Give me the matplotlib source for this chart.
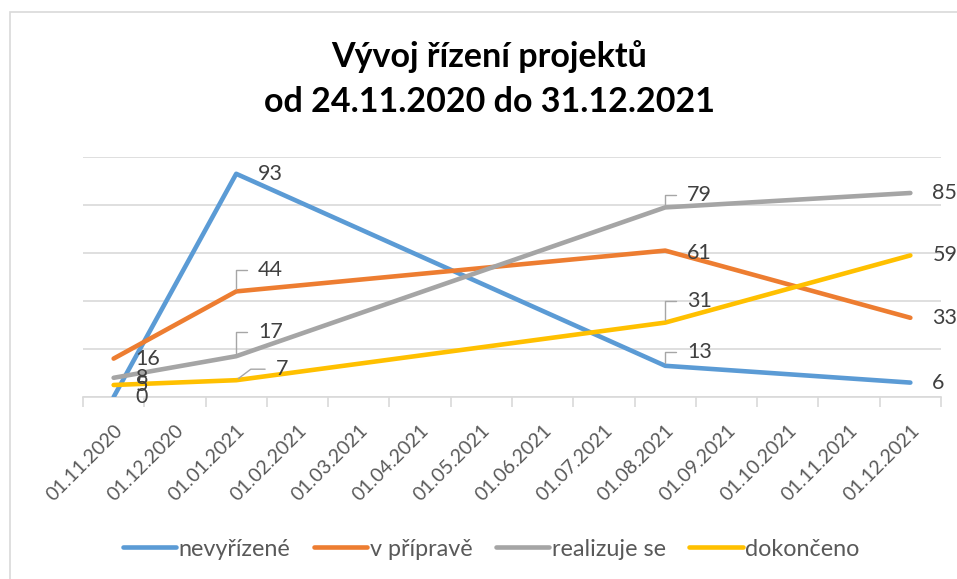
import datetime as dt
import matplotlib
matplotlib.use("Agg")
import matplotlib.pyplot as plt
from matplotlib.patches import Rectangle

plt.rcParams['font.family'] = ['Lato', 'DejaVu Sans']

# categories on the date axis (one per month)
months = ['01.11.2020', '01.12.2020', '01.01.2021', '01.02.2021', '01.03.2021',
          '01.04.2021', '01.05.2021', '01.06.2021', '01.07.2021', '01.08.2021',
          '01.09.2021', '01.10.2021', '01.11.2021', '01.12.2021']

# dates of the measurements
dates = ['24.11.2020', '01.01.2021', '01.08.2021', '31.12.2021']

series_names = ['nevyřízené', 'v přípravě', 'realizuje se', 'dokončeno']
nevyrizene = [0, 93, 13, 6]
v_priprave = [16, 44, 61, 33]
realizuje_se = [8, 17, 79, 85]
dokonceno = [5, 7, 31, 59]

colors = ['#5B9BD5', '#ED7D31', '#A5A5A5', '#FFC000']

# label placement: (dx, dy) in pixels from the point, leader angle or None
label_pos = {
    'nevyřízené': [(22, 0, None), (22, 0, None), (22, 14, 90), (22, 0, None)],
    'v přípravě': [(22, 0, None), (22, 21, 90), (22, -2, None), (22, 0, None)],
    'realizuje se': [(22, 0, None), (22, 24, 90), (22, 12, 90), (22, 0, None)],
    'dokončeno': [(22, 0, None), (40, 11, 37), (22, 22, 90), (22, 0, None)],
}


def month_index(s):
    d = dt.datetime.strptime(s, '%d.%m.%Y')
    first = dt.datetime.strptime(months[0], '%d.%m.%Y')
    return (d.year - first.year) * 12 + d.month - first.month


x = [month_index(d) for d in dates]

fig = plt.figure(figsize=(9.57, 5.79), dpi=100)
ax = fig.add_axes([83 / 957, 1 - 397 / 579, (941 - 83) / 957, (397 - 157) / 579])

# outer chart border
fig.patches.append(Rectangle((9.5 / 957, -0.1), 2, 1.1 - 12.5 / 579,
                             transform=fig.transFigure, fill=False,
                             edgecolor='#d9d9d9', linewidth=1.2))

all_values = [nevyrizene, v_priprave, realizuje_se, dokonceno]
for name, vals, c in zip(series_names, all_values, colors):
    ax.plot(x, vals, color=c, linewidth=3.3, solid_capstyle='round',
            solid_joinstyle='round', label=name, zorder=3)

for name, vals in zip(series_names, all_values):
    for xi, v, (dx, dy, ang) in zip(x, vals, label_pos[name]):
        kw = {}
        if ang is not None:
            kw['arrowprops'] = dict(arrowstyle='-', color='#a6a6a6', lw=1,
                                    shrinkA=6, shrinkB=2, relpos=(0, 0.5),
                                    connectionstyle='angle,angleA=0,angleB=%d,rad=0' % ang)
        ax.annotate(str(v), (xi, v), xytext=(dx, dy), textcoords='offset pixels',
                    ha='left', va='center', fontsize=15.5, color='#404040',
                    zorder=4, **kw)

ax.set_xlim(-0.5, len(months) - 0.5)
ax.set_ylim(0, 100)
ax.set_yticks(range(0, 101, 20))
ax.yaxis.grid(True, color='#d9d9d9', linewidth=1.2)
ax.set_axisbelow(True)
ax.tick_params(axis='y', left=False, labelleft=False)

ax.set_xticks(range(len(months)))
ax.set_xticklabels(months, rotation=45, ha='right', rotation_mode='anchor',
                   fontsize=14, color='#595959')
ax.tick_params(axis='x', which='major', length=0, pad=18)
ax.set_xticks([i - 0.5 for i in range(len(months) + 1)], minor=True)
ax.tick_params(axis='x', which='minor', length=7, color='#d9d9d9', width=1.2)

for s in ['top', 'right', 'left']:
    ax.spines[s].set_visible(False)
ax.spines['bottom'].set_color('#d9d9d9')
ax.spines['bottom'].set_linewidth(1.2)

fig.text(0.511, 1 - 57 / 579, 'Vývoj řízení projektů', ha='center', va='center',
         fontsize=24.5, fontweight='bold', color='black')
fig.text(0.511, 1 - 102 / 579, 'od 24.11.2020 do 31.12.2021', ha='center', va='center',
         fontsize=24.5, fontweight='bold', color='black')

leg = fig.legend(loc='center', bbox_to_anchor=(0.513, 1 - 549 / 579), ncol=4,
                 frameon=False, fontsize=16.8, handlelength=2.3, handletextpad=0.1,
                 columnspacing=1.0, labelcolor='#595959')
for line in leg.get_lines():
    line.set_linewidth(3.3)
    line.set_solid_capstyle('round')

fig.savefig('out.png', dpi=100)
